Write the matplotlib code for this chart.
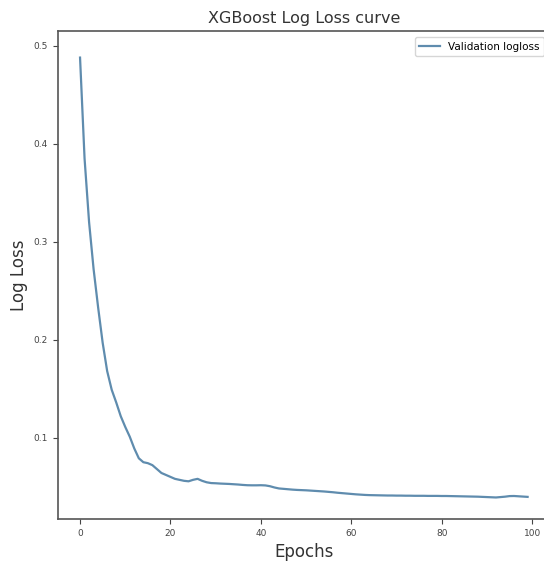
import matplotlib.pyplot as plt

epochs = list(range(100))
val_logloss = [
    0.488, 0.385, 0.320, 0.272, 0.233, 0.197, 0.168, 0.149, 0.136, 0.122,
    0.111, 0.101, 0.089, 0.079, 0.075, 0.074, 0.072, 0.068, 0.064, 0.062,
    0.060, 0.058, 0.057, 0.056, 0.0555, 0.057, 0.058, 0.056, 0.0545, 0.0537,
    0.0535, 0.0532, 0.0530, 0.0528, 0.0525, 0.0522, 0.0518, 0.0515, 0.0514, 0.0514,
    0.0515, 0.0513, 0.0505, 0.0492, 0.0482, 0.0478, 0.0474, 0.0470, 0.0467, 0.0465,
    0.0463, 0.0460, 0.0457, 0.0454, 0.0451, 0.0447, 0.0443, 0.0438, 0.0434, 0.0430,
    0.0426, 0.0422, 0.0419, 0.0416, 0.0414, 0.0413, 0.0412, 0.0411, 0.0410, 0.0410,
    0.0409, 0.0409, 0.0408, 0.0408, 0.0407, 0.0407, 0.0407, 0.0406, 0.0406, 0.0406,
    0.0405, 0.0405, 0.0404, 0.0403, 0.0402, 0.0401, 0.0400, 0.0399, 0.0398, 0.0396,
    0.0394, 0.0392, 0.0390, 0.0394, 0.0398, 0.0404, 0.0405, 0.0402, 0.0399, 0.0396,
]

fig = plt.figure(figsize=(5.44, 5.66), dpi=100)
ax = fig.add_axes([0.106, 0.083, 0.905, 0.862])

ax.plot(epochs, val_logloss, color='#5f8cae', linewidth=1.6, label='Validation logloss')
ax.set_xlim(-4.95, 103.95)
ax.set_ylim(0.017, 0.515)
ax.set_xticks([0, 20, 40, 60, 80, 100])
ax.set_yticks([0.1, 0.2, 0.3, 0.4, 0.5])
ax.tick_params(labelsize=6.5, colors='#444444')
for s in ax.spines.values():
    s.set_color('#555555')
    s.set_linewidth(1.2)

ax.set_title('XGBoost Log Loss curve', fontsize=11.5, color='#333333')
ax.set_xlabel('Epochs', fontsize=12, color='#333333')
ax.set_ylabel('Log Loss', fontsize=12, color='#333333')
ax.legend(loc='upper right', fontsize=7.5, borderaxespad=0.6)

plt.savefig('out.png', dpi=100)
